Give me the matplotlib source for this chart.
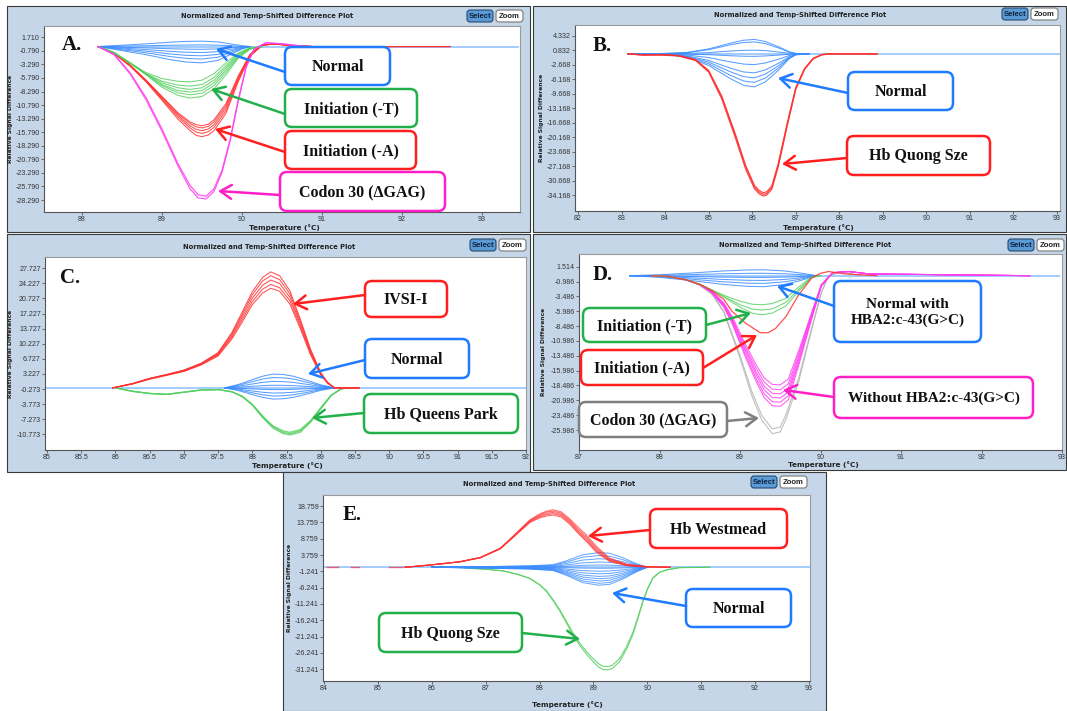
import matplotlib
matplotlib.use('Agg')
import matplotlib.pyplot as plt
from matplotlib.patches import FancyBboxPatch, Rectangle
from matplotlib import font_manager

# ---------------- panel A ----------------
a_blue_t = [88.2, 88.5, 88.8, 89.1, 89.3, 89.5, 89.7, 89.85, 90.0, 90.1]
a_blue = [
    [0, 0.25, 0.5, 0.8, 0.95, 1.0, 0.85, 0.5, 0.15, 0],
    [0, 0.08, 0.15, 0.24, 0.28, 0.3, 0.26, 0.15, 0.05, 0],
    [0, -0.12, -0.25, -0.4, -0.47, -0.5, -0.43, -0.25, -0.08, 0],
    [0, -0.28, -0.55, -0.88, -1.05, -1.1, -0.94, -0.55, -0.17, 0],
    [0, -0.42, -0.85, -1.36, -1.62, -1.7, -1.45, -0.85, -0.26, 0],
    [0, -0.58, -1.15, -1.84, -2.18, -2.3, -1.96, -1.15, -0.35, 0],
    [0, -0.75, -1.5, -2.4, -2.85, -3.0, -2.55, -1.5, -0.45, 0],
]
a_green_t = [88.2, 88.4, 88.6, 88.8, 89.0, 89.2, 89.35, 89.5, 89.65, 89.8, 89.95, 90.1, 90.25]
a_green = [
    [0, -1.1, -3.0, -4.8, -5.9, -6.4, -6.5, -6.2, -5.0, -3.0, -1.2, -0.2, 0],
    [0, -1.1, -3.0, -5.0, -6.4, -7.1, -7.3, -7.0, -5.7, -3.5, -1.4, -0.3, 0],
    [0, -1.1, -3.0, -5.0, -6.7, -7.6, -7.9, -7.6, -6.2, -3.9, -1.6, -0.3, 0],
    [0, -1.1, -3.0, -5.1, -7.0, -8.1, -8.4, -8.1, -6.7, -4.3, -1.8, -0.4, 0],
    [0, -1.1, -3.0, -5.1, -7.2, -8.5, -8.9, -8.6, -7.2, -4.7, -2.0, -0.4, 0],
    [0, -1.1, -3.1, -5.2, -7.5, -9.0, -9.5, -9.2, -7.8, -5.2, -2.2, -0.5, 0],
]
a_red_t = [88.2, 88.4, 88.6, 88.8, 89.0, 89.2, 89.35, 89.43, 89.5, 89.58, 89.65, 89.8, 89.95,
           90.1, 90.25, 90.4, 90.6, 90.9, 92.6]
a_red = [
    [0, -1.2, -3.4, -6.2, -9.2, -12.2, -13.9, -14.4, -14.6, -14.3, -13.5, -10.5, -5.5, -1.4, 0.3, 0.5, 0.2, 0, 0],
    [0, -1.2, -3.4, -6.2, -9.3, -12.4, -14.2, -14.8, -15.0, -14.7, -13.9, -10.9, -5.8, -1.5, 0.3, 0.5, 0.2, 0, 0],
    [0, -1.2, -3.5, -6.3, -9.5, -12.7, -14.6, -15.3, -15.5, -15.2, -14.4, -11.3, -6.0, -1.6, 0.2, 0.5, 0.2, 0, 0],
    [0, -1.2, -3.5, -6.4, -9.7, -13.0, -15.0, -15.8, -16.0, -15.7, -14.9, -11.8, -6.3, -1.7, 0.2, 0.5, 0.2, 0, 0],
    [0, -1.3, -3.6, -6.5, -9.9, -13.4, -15.5, -16.4, -16.6, -16.3, -15.5, -12.3, -6.6, -1.8, 0.2, 0.5, 0.2, 0, 0],
]
a_mag_t = [88.2, 88.4, 88.6, 88.8, 89.0, 89.2, 89.35, 89.45, 89.55, 89.65, 89.75,
           89.85, 89.95, 90.05, 90.15, 90.3, 90.5, 90.8]
a_mag = [
    [0, -1.4, -4.8, -9.4, -15.2, -21.6, -25.6, -27.3, -27.6, -26.2, -22.8, -17.2, -10.0, -3.8, -0.5, 0.7, 0.5, 0],
    [0, -1.5, -5.0, -9.8, -15.6, -22.0, -26.2, -27.9, -28.1, -26.7, -23.2, -17.5, -10.3, -3.9, -0.5, 0.7, 0.5, 0],
]
a_base = [88.2, 93.45]
a_yticks = [1.71, -0.79, -3.29, -5.79, -8.29, -10.79, -13.29, -15.79, -18.29,
            -20.79, -23.29, -25.79, -28.29]
a_xticks = [88, 89, 90, 91, 92, 93]

# ---------------- panel B ----------------
b_blue_t = [83.15, 84.0, 84.5, 85.0, 85.5, 85.8, 86.05, 86.3, 86.6, 86.85, 87.0, 87.3]
b_blue = [
    [0, 0.1, 0.35, 1.2, 2.6, 3.3, 3.5, 3.0, 1.75, 0.5, 0.1, 0],
    [0, 0.1, 0.3, 1.0, 2.2, 2.75, 2.9, 2.5, 1.45, 0.45, 0.1, 0],
    [0, 0.0, 0.1, 0.3, 0.7, 0.85, 0.9, 0.8, 0.45, 0.15, 0.0, 0],
    [0, 0, -0.06, -0.2, -0.45, -0.57, -0.6, -0.5, -0.3, -0.1, 0, 0],
    [0, -0.05, -0.26, -0.9, -1.95, -2.47, -2.6, -2.2, -1.3, -0.4, -0.08, 0],
    [0, -0.1, -0.46, -1.6, -3.45, -4.37, -4.6, -3.9, -2.3, -0.7, -0.14, 0],
    [0, -0.12, -0.58, -2.0, -4.35, -5.5, -5.8, -4.9, -2.9, -0.87, -0.17, 0],
    [0, -0.14, -0.7, -2.4, -5.2, -6.55, -6.9, -5.85, -3.45, -1.0, -0.2, 0],
    [0, -0.16, -0.8, -2.8, -6.0, -7.6, -8.0, -6.8, -4.0, -1.2, -0.24, 0],
]
b_red_t = [83.15, 83.5, 83.9, 84.3, 84.7, 85.0, 85.3, 85.6, 85.85, 86.05, 86.15, 86.25, 86.33,
           86.45, 86.6, 86.8, 87.0, 87.2, 87.4, 87.6, 87.8, 88.87]
b_red = [
    [0, -0.3, -0.2, -0.4, -1.4, -4.0, -10.2, -19.0, -27.0, -31.8, -33.0, -33.6, -33.4, -32.0, -26.5, -17.0, -8.2, -3.6, -1.1, -0.2, 0, 0],
    [0, -0.3, -0.2, -0.4, -1.5, -4.2, -10.5, -19.4, -27.4, -32.2, -33.4, -34.0, -33.8, -32.4, -26.9, -17.3, -8.4, -3.7, -1.1, -0.2, 0, 0],
    [0, -0.2, -0.3, -0.5, -1.6, -4.4, -10.9, -19.9, -27.9, -32.6, -33.8, -34.4, -34.2, -32.8, -27.3, -17.6, -8.6, -3.8, -1.2, -0.2, 0, 0],
]
b_base = [83.15, 93.07]
b_yticks = [4.332, 0.832, -2.668, -6.168, -9.668, -13.168, -16.668, -20.168,
            -23.668, -27.168, -30.668, -34.168]
b_xticks = [82, 83, 84, 85, 86, 87, 88, 89, 90, 91, 92, 93]

# ---------------- panel C ----------------
c_blue_t = [87.6, 87.8, 88.0, 88.15, 88.3, 88.45, 88.6, 88.8, 89.0, 89.2]
c_blue = [
    [0, 0.8, 1.9, 2.7, 3.2, 3.1, 2.7, 1.75, 0.7, 0],
    [0, 0.6, 1.45, 2.05, 2.4, 2.33, 2.05, 1.3, 0.53, 0],
    [0, 0.38, 0.9, 1.28, 1.5, 1.45, 1.28, 0.82, 0.33, 0],
    [0, 0.15, 0.36, 0.51, 0.6, 0.58, 0.51, 0.33, 0.13, 0],
    [0, -0.1, -0.24, -0.34, -0.4, -0.39, -0.34, -0.22, -0.09, 0],
    [0, -0.3, -0.72, -1.02, -1.2, -1.16, -1.02, -0.66, -0.26, 0],
    [0, -0.48, -1.14, -1.6, -1.9, -1.84, -1.6, -1.05, -0.42, 0],
    [0, -0.65, -1.56, -2.2, -2.6, -2.52, -2.2, -1.43, -0.57, 0],
]
c_red_t = [85.96, 86.25, 86.5, 86.75, 87.0, 87.25, 87.5, 87.7, 87.85, 88.0, 88.15,
           88.27, 88.4, 88.55, 88.7, 88.85, 89.0, 89.1, 89.2, 89.56]
c_red = [
    [0, 1.0, 2.2, 3.1, 4.1, 5.7, 8.2, 12.8, 17.5, 22.3, 25.6, 26.9, 26.0, 22.5, 16.0, 9.0, 3.5, 1.3, 0, 0],
    [0, 1.0, 2.2, 3.1, 4.1, 5.6, 8.0, 12.5, 17.0, 21.6, 24.8, 26.0, 25.1, 21.8, 15.5, 8.7, 3.4, 1.2, 0, 0],
    [0, 1.0, 2.1, 3.0, 4.0, 5.5, 7.8, 12.1, 16.4, 20.8, 23.8, 25.0, 24.2, 21.0, 14.9, 8.4, 3.3, 1.2, 0, 0],
    [0, 0.9, 2.1, 3.0, 3.9, 5.4, 7.6, 11.7, 15.8, 20.0, 22.9, 24.0, 23.2, 20.2, 14.3, 8.0, 3.1, 1.1, 0, 0],
    [0, 0.9, 2.0, 2.9, 3.8, 5.3, 7.4, 11.3, 15.2, 19.3, 22.0, 23.1, 22.4, 19.4, 13.8, 7.7, 3.0, 1.1, 0, 0],
]
c_green_t = [86.0, 86.25, 86.5, 86.75, 87.0, 87.25, 87.5, 87.7, 87.85, 88.0, 88.15,
             88.3, 88.45, 88.55, 88.7, 88.85, 89.0, 89.15, 89.3, 89.45]
c_green = [
    [0, -0.8, -1.3, -1.5, -1.0, -0.5, -0.4, -0.9, -2.0, -4.0, -6.9, -9.3, -10.6, -10.9, -10.3, -8.0, -4.9, -1.8, -0.2, 0],
    [0, -0.8, -1.3, -1.5, -1.0, -0.5, -0.4, -0.9, -2.0, -3.9, -6.7, -9.0, -10.3, -10.6, -10.0, -7.8, -4.8, -1.8, -0.2, 0],
    [0, -0.8, -1.3, -1.5, -1.0, -0.5, -0.4, -0.9, -1.9, -3.8, -6.5, -8.8, -10.0, -10.3, -9.7, -7.6, -4.6, -1.7, -0.2, 0],
]
c_base = [85.0, 92.0]
c_yticks = [27.727, 24.227, 20.727, 17.227, 13.727, 10.227, 6.727, 3.227,
            -0.273, -3.773, -7.273, -10.773]
c_xticks = [85, 85.5, 86, 86.5, 87, 87.5, 88, 88.5, 89, 89.5, 90, 90.5, 91, 91.5, 92]

# ---------------- panel D ----------------
d_blue_t = [87.63, 88.0, 88.4, 88.8, 89.1, 89.3, 89.55, 89.75, 89.95]
d_blue = [
    [0, 0.15, 0.45, 0.8, 0.97, 1.0, 0.8, 0.45, 0],
    [0, 0.06, 0.18, 0.32, 0.39, 0.4, 0.32, 0.18, 0],
    [0, -0.05, -0.14, -0.24, -0.29, -0.3, -0.24, -0.14, 0],
    [0, -0.12, -0.36, -0.64, -0.78, -0.8, -0.64, -0.36, 0],
    [0, -0.2, -0.59, -1.04, -1.26, -1.3, -1.04, -0.59, 0],
    [0, -0.28, -0.83, -1.48, -1.8, -1.85, -1.48, -0.83, 0],
]
d_green_t = [87.9, 88.1, 88.33, 88.5, 88.65, 88.8, 89.0, 89.15, 89.27, 89.4, 89.57,
             89.73, 89.89, 90.0]
d_green = [
    [0, -0.1, -0.7, -1.45, -2.4, -3.3, -4.3, -4.8, -4.9, -4.7, -3.8, -1.9, -0.2, 0],
    [0, -0.1, -0.7, -1.45, -2.4, -3.5, -4.9, -5.6, -5.8, -5.6, -4.5, -2.3, -0.3, 0],
    [0, -0.1, -0.7, -1.45, -2.45, -3.6, -5.3, -6.3, -6.6, -6.3, -5.1, -2.6, -0.3, 0],
]
d_red_t = [87.9, 88.1, 88.33, 88.5, 88.65, 88.8, 88.9, 89.07, 89.25, 89.35, 89.44,
           89.57, 89.73, 89.89, 90.0, 90.1, 90.3, 90.7]
d_red = [
    [0, -0.1, -0.7, -1.45, -2.5, -4.0, -6.0, -8.0, -9.6, -9.6, -8.9, -6.9, -3.2, -0.4, 0.4, 0.7, 0.3, 0],
]
d_mag_t = [87.9, 88.1, 88.33, 88.5, 88.65, 88.8, 88.9, 89.07, 89.2, 89.3, 89.4, 89.5,
           89.6, 89.73, 89.89, 90.01, 90.15, 90.35, 90.6, 92.6]
d_mag = [
    [0, -0.1, -0.7, -1.5, -2.6, -4.6, -6.8, -11.6, -15.0, -17.2, -18.3, -18.4, -17.4, -12.6, -6.2, -1.5, 0.5, 0.7, 0.3, 0],
    [0, -0.1, -0.7, -1.5, -2.7, -4.8, -7.1, -12.1, -15.6, -17.9, -19.1, -19.2, -18.2, -13.1, -6.4, -1.6, 0.5, 0.7, 0.3, 0],
    [0, -0.1, -0.7, -1.5, -2.7, -4.9, -7.3, -12.5, -16.2, -18.6, -19.8, -19.9, -18.9, -13.6, -6.6, -1.6, 0.5, 0.7, 0.3, 0],
    [0, -0.1, -0.7, -1.5, -2.8, -5.0, -7.5, -12.9, -16.7, -19.2, -20.5, -20.6, -19.6, -14.1, -6.9, -1.7, 0.5, 0.7, 0.3, 0],
    [0, -0.1, -0.7, -1.5, -2.8, -5.2, -7.8, -13.4, -17.3, -19.9, -21.2, -21.3, -20.2, -14.6, -7.1, -1.7, 0.5, 0.7, 0.3, 0],
    [0, -0.1, -0.7, -1.5, -2.9, -5.3, -8.0, -13.8, -17.8, -20.5, -21.9, -22.0, -20.9, -15.1, -7.3, -1.8, 0.5, 0.7, 0.3, 0],
]
d_gray_t = [87.9, 88.1, 88.33, 88.5, 88.65, 88.8, 88.99, 89.15, 89.27, 89.4, 89.5,
            89.57, 89.73, 89.89, 90.01, 90.1, 90.25, 90.5]
d_gray = [
    [0, -0.1, -0.7, -1.6, -3.0, -6.0, -13.0, -19.6, -23.5, -25.8, -25.5, -23.4, -17.2, -8.8, -2.8, 0, 0.6, 0],
    [0, -0.1, -0.7, -1.6, -3.1, -6.2, -13.5, -20.3, -24.3, -26.6, -26.3, -24.2, -17.8, -9.1, -2.9, 0, 0.6, 0],
]
d_base = [87.63, 92.96]
d_yticks = [1.514, -0.986, -3.486, -5.986, -8.486, -10.986, -13.486, -15.986,
            -18.486, -20.986, -23.486, -25.986]
d_xticks = [87, 88, 89, 90, 91, 92, 93]

# ---------------- panel E ----------------
e_red_t = [85.5, 85.97, 86.52, 86.9, 87.27, 87.5, 87.82, 88.0, 88.13, 88.25, 88.4,
           88.56, 88.72, 88.87, 89.06, 89.3, 89.62, 89.99, 90.42]
e_red = [
    [0, 0.7, 1.7, 3.0, 5.8, 9.4, 14.5, 16.3, 17.2, 17.6, 17.0, 14.8, 12.2, 9.9, 6.3, 2.8, 0.9, 0.2, 0],
    [0, 0.7, 1.7, 3.0, 5.8, 9.3, 14.3, 16.0, 16.9, 17.2, 16.6, 14.4, 11.6, 9.3, 5.8, 2.5, 0.8, 0.2, 0],
    [0, 0.7, 1.7, 3.0, 5.7, 9.2, 14.1, 15.7, 16.5, 16.8, 16.2, 14.0, 11.1, 8.8, 5.3, 2.2, 0.7, 0.2, 0],
    [0, 0.7, 1.7, 2.9, 5.7, 9.1, 13.9, 15.4, 16.1, 16.4, 15.8, 13.6, 10.7, 8.3, 4.9, 2.0, 0.6, 0.1, 0],
    [0, 0.7, 1.6, 2.9, 5.6, 9.0, 13.7, 15.1, 15.7, 16.0, 15.4, 13.2, 10.3, 7.9, 4.5, 1.8, 0.5, 0.1, 0],
]
e_red_dash = [(84.05, 84.25), (84.5, 84.65), (85.2, 85.45)]
e_blue_t = [86.0, 87.0, 87.8, 88.25, 88.5, 88.8, 89.1, 89.3, 89.55, 89.8, 90.0]
e_blue = [
    [0, 0.22, 0.45, 0.8, 2.0, 3.8, 4.5, 4.3, 2.9, 1.1, 0],
    [0, 0.18, 0.36, 0.65, 1.6, 3.1, 3.6, 3.4, 2.3, 0.9, 0],
    [0, 0.13, 0.26, 0.47, 1.17, 2.2, 2.6, 2.47, 1.7, 0.65, 0],
    [0, 0.08, 0.16, 0.29, 0.72, 1.36, 1.6, 1.52, 1.04, 0.4, 0],
    [0, 0.03, 0.07, 0.13, 0.32, 0.6, 0.7, 0.67, 0.46, 0.18, 0],
    [0, -0.02, -0.03, -0.05, -0.14, -0.26, -0.3, -0.29, -0.2, -0.08, 0],
    [0, -0.06, -0.12, -0.22, -0.54, -1.02, -1.2, -1.14, -0.78, -0.3, 0],
    [0, -0.1, -0.2, -0.36, -0.9, -1.7, -2.0, -1.9, -1.3, -0.5, 0],
    [0, -0.14, -0.28, -0.5, -1.26, -2.38, -2.8, -2.66, -1.82, -0.7, 0],
    [0, -0.18, -0.35, -0.63, -1.58, -2.98, -3.5, -3.33, -2.28, -0.88, 0],
    [0, -0.21, -0.42, -0.76, -1.89, -3.57, -4.2, -4.0, -2.73, -1.05, 0],
    [0, -0.25, -0.49, -0.88, -2.2, -4.17, -4.9, -4.66, -3.19, -1.23, 0],
    [0, -0.28, -0.55, -0.99, -2.48, -4.68, -5.5, -5.23, -3.58, -1.38, 0],
]
e_green_t = [86.5, 86.7, 87.0, 87.32, 87.6, 87.82, 88.0, 88.13, 88.25, 88.38, 88.5,
             88.62, 88.75, 88.88, 89.0, 89.1, 89.18, 89.27, 89.35, 89.49, 89.62, 89.73,
             89.83, 89.92, 90.0, 90.1, 90.22, 90.36, 90.6, 91.16]
e_green = [
    [0, -0.3, -0.6, -1.1, -2.2, -3.4, -5.4, -7.4, -10.2, -13.5, -17.1, -20.7, -24.0, -26.8,
     -29.0, -30.6, -31.3, -31.4, -31.0, -28.8, -24.9, -20.7, -15.5, -10.5, -6.9, -3.4,
     -1.6, -0.8, -0.1, 0],
    [0, -0.3, -0.6, -1.1, -2.2, -3.4, -5.3, -7.2, -9.9, -13.1, -16.6, -20.1, -23.3, -26.0,
     -28.1, -29.6, -30.3, -30.4, -30.0, -27.9, -24.1, -20.0, -15.0, -10.2, -6.7, -3.3,
     -1.6, -0.8, -0.1, 0],
]
e_base = [84.0, 93.02]
e_yticks = [18.759, 13.759, 8.759, 3.759, -1.241, -6.241, -11.241, -16.241,
            -21.241, -26.241, -31.241]
e_xticks = [84, 85, 86, 87, 88, 89, 90, 91, 92, 93]

BLUE, GREEN, RED, MAG, GRAY = '#1f7bff', '#22b04b', '#ff1f1f', '#ff1fc8', '#7f7f7f'
C_BLUE, C_GREEN, C_RED, C_MAG, C_GRAY = '#3b8cff', '#55d060', '#ff3030', '#ff3cf0', '#b0b0b0'
C_BASE = '#9cc8ff'
PANEL_BG = '#c5d6e8'

# narrow face for the tick numbers if it is there
names = {f.name for f in font_manager.fontManager.ttflist}
TICK_FONT = 'Liberation Sans Narrow' if 'Liberation Sans Narrow' in names else 'Liberation Sans'

W, H = 1067, 711
fig = plt.figure(figsize=(W / 100, H / 100), dpi=100)


def frac(x0, y0, x1, y1):
    return [x0 / W, 1 - y1 / H, (x1 - x0) / W, (y1 - y0) / H]


def overlay(z):
    ax = fig.add_axes([0, 0, 1, 1], zorder=z)
    ax.set_xlim(0, W)
    ax.set_ylim(H, 0)
    ax.axis('off')
    return ax


back = overlay(0)
front = overlay(10)


def panel(frame, box, xlim, ylim, xticks, yticks, title_x, title_y, sel_x, btn_y,
          ylab_x, xlab, tag, tag_xy):
    x0, y0, x1, y1 = frame
    back.add_patch(Rectangle((x0, y0), x1 - x0, y1 - y0, fc=PANEL_BG, ec='#3a3a3a', lw=0.8))

    ax = fig.add_axes(frac(*box), zorder=2)
    ax.set_xlim(xlim)
    ax.set_ylim(ylim)
    ax.set_xticks(xticks, [f'{t:g}' for t in xticks])
    ax.set_yticks(yticks, [f'{t:.3f}' for t in yticks])
    ax.tick_params(labelsize=5.1, length=2, width=0.6, color='#555',
                   labelcolor='#333', pad=1)
    for lab in ax.get_xticklabels() + ax.get_yticklabels():
        lab.set_family(TICK_FONT)
    for s in ax.spines.values():
        s.set_color('#9a9a9a')
        s.set_linewidth(0.8)
    ax.spines['left'].set_color('#555')
    ax.spines['bottom'].set_color('#555')

    front.text(title_x, title_y, 'Normalized and Temp-Shifted Difference Plot',
               ha='center', va='center', fontsize=4.9, fontweight='bold', color='#222')
    # Select / Zoom buttons
    front.add_patch(FancyBboxPatch((sel_x, btn_y), 26, 12,
                                   boxstyle='round,pad=0,rounding_size=3',
                                   fc='#5b9bd5', ec='#27486e', lw=0.8))
    front.text(sel_x + 13, btn_y + 6.3, 'Select', ha='center', va='center',
               fontsize=5.6, color='#0d2440', family=TICK_FONT, fontweight='bold')
    front.add_patch(FancyBboxPatch((sel_x + 29, btn_y), 27, 12,
                                   boxstyle='round,pad=0,rounding_size=3',
                                   fc='white', ec='#777777', lw=0.8))
    front.text(sel_x + 42.5, btn_y + 6.3, 'Zoom', ha='center', va='center',
               fontsize=5.6, color='#222', family=TICK_FONT, fontweight='bold')

    front.text(ylab_x, (box[1] + box[3]) / 2, 'Relative Signal Difference', rotation=90,
               ha='center', va='center', fontsize=4.3, fontweight='bold', color='#222')
    front.text(xlab[0], xlab[1], 'Temperature (°C)', ha='center', va='center',
               fontsize=5.2, fontweight='bold', color='#222')
    front.text(tag_xy[0], tag_xy[1], tag, ha='center', va='center', fontsize=15,
               fontweight='bold', family='Liberation Serif', color='#111')
    return ax


def curves(ax, t, rows, color, lw=0.75, alpha=0.85):
    for r in rows:
        ax.plot(t, r, color=color, lw=lw, alpha=alpha, solid_joinstyle='round')


def baseline(ax, span, color=C_BASE, lw=1.3):
    ax.plot(span, [0, 0], color=color, lw=lw)


def label_box(x0, y0, x1, y1, text, color, size=11.5):
    front.add_patch(FancyBboxPatch((x0, y0), x1 - x0, y1 - y0,
                                   boxstyle='round,pad=0,rounding_size=7',
                                   fc='white', ec=color, lw=1.8))
    front.text((x0 + x1) / 2, (y0 + y1) / 2 + 1, text, ha='center', va='center',
               fontsize=size, fontweight='bold', family='Liberation Serif',
               color='#111', linespacing=1.15)


def pointer(x0, y0, x1, y1, color):
    front.annotate('', xy=(x1, y1), xytext=(x0, y0),
                   arrowprops=dict(arrowstyle='->,head_length=0.8,head_width=0.5',
                                   color=color, lw=1.8, shrinkA=0, shrinkB=0))


# panel A
ax = panel((7, 6, 530, 232), (44, 26, 520, 212), (87.525, 93.475), (-30.5, 3.79),
           a_xticks, a_yticks, 267, 16, 467, 10, 11, (284, 228), 'A.', (72, 45))
baseline(ax, a_base)
curves(ax, a_blue_t, a_blue, C_BLUE)
curves(ax, a_red_t, a_red, C_RED)
curves(ax, a_green_t, a_green, C_GREEN)
curves(ax, a_mag_t, a_mag, C_MAG, lw=0.9)
label_box(285, 47, 390, 85, 'Normal', BLUE)
label_box(285, 89, 417, 127, 'Initiation (-T)', GREEN)
label_box(285, 131, 416, 169, 'Initiation (-A)', RED)
label_box(280, 172, 445, 211, 'Codon 30 (ΔGAG)', MAG)
pointer(285, 72, 216, 49, BLUE)
pointer(285, 114, 211, 89, GREEN)
pointer(285, 152, 215, 129, RED)
pointer(280, 195, 218, 191, MAG)

# panel B
ax = panel((533, 6, 1066, 232), (575, 25, 1060, 211), (81.93, 93.07), (-38.04, 6.99),
           b_xticks, b_yticks, 800, 15, 1002, 8, 541, (818, 228), 'B.', (602, 46))
baseline(ax, b_base)
curves(ax, b_blue_t, b_blue, C_BLUE)
curves(ax, b_red_t, b_red, C_RED, lw=0.9)
label_box(848, 72, 953, 110, 'Normal', BLUE)
label_box(847, 136, 990, 175, 'Hb Quong Sze', RED)
pointer(848, 93, 778, 78, BLUE)
pointer(847, 158, 782, 164, RED)

# panel C
ax = panel((7, 234, 530, 472), (45, 257, 526, 450), (84.97, 92.0), (-14.41, 30.35),
           c_xticks, c_yticks, 269, 247, 470, 239, 11, (287, 466), 'C.', (70, 278))
baseline(ax, c_base)
curves(ax, c_blue_t, c_blue, C_BLUE)
curves(ax, c_green_t, c_green, C_GREEN, lw=0.9)
curves(ax, c_red_t, c_red, C_RED)
label_box(365, 281, 447, 317, 'IVSI-I', RED)
label_box(365, 339, 469, 378, 'Normal', BLUE)
label_box(364, 394, 518, 433, 'Hb Queens Park', GREEN)
pointer(365, 295, 293, 304, RED)
pointer(365, 360, 308, 374, BLUE)
pointer(364, 413, 312, 418, GREEN)

# panel D
ax = panel((533, 234, 1066, 470), (579, 254, 1062, 450), (87.0, 92.96), (-29.35, 3.65),
           d_xticks, d_yticks, 805, 245, 1008, 239, 544, (823, 465), 'D.', (603, 275))
baseline(ax, d_base)
curves(ax, d_blue_t, d_blue, C_BLUE)
curves(ax, d_gray_t, d_gray, C_GRAY)
curves(ax, d_mag_t, d_mag, C_MAG)
curves(ax, d_green_t, d_green, C_GREEN)
curves(ax, d_red_t, d_red, C_RED, lw=0.9)
label_box(834, 281, 981, 342, 'Normal with\nHBA2:c-43(G>C)', BLUE, size=11)
label_box(583, 308, 706, 342, 'Initiation (-T)', GREEN)
label_box(581, 350, 703, 385, 'Initiation (-A)', RED)
label_box(834, 377, 1033, 418, 'Without HBA2:c-43(G>C)', MAG, size=11)
label_box(579, 402, 727, 437, 'Codon 30 (ΔGAG)', GRAY)
pointer(834, 306, 777, 286, BLUE)
pointer(706, 325, 751, 313, GREEN)
pointer(703, 368, 757, 335, RED)
pointer(834, 397, 783, 390, MAG)
pointer(727, 421, 759, 418, GRAY)

# panel E
ax = panel((283, 472, 826, 711), (323, 495, 810, 681), (83.98, 93.02), (-34.82, 22.13),
           e_xticks, e_yticks, 549, 484, 751, 476, 290, (567, 705), 'E.', (352, 515))
baseline(ax, e_base)
for t0, t1 in e_red_dash:
    ax.plot([t0, t1], [0, 0], color=C_RED, lw=1.0, alpha=0.7)
curves(ax, e_green_t, e_green, C_GREEN, lw=0.8)
curves(ax, e_blue_t, e_blue, C_BLUE, lw=0.7, alpha=0.8)
curves(ax, e_red_t, e_red, C_RED, lw=0.8, alpha=0.7)
label_box(650, 509, 787, 548, 'Hb Westmead', RED)
label_box(686, 589, 791, 627, 'Normal', BLUE)
label_box(379, 613, 522, 652, 'Hb Quong Sze', GREEN)
pointer(650, 530, 588, 536, RED)
pointer(686, 606, 612, 593, BLUE)
pointer(522, 633, 580, 639, GREEN)

fig.savefig('out.png', dpi=100)
